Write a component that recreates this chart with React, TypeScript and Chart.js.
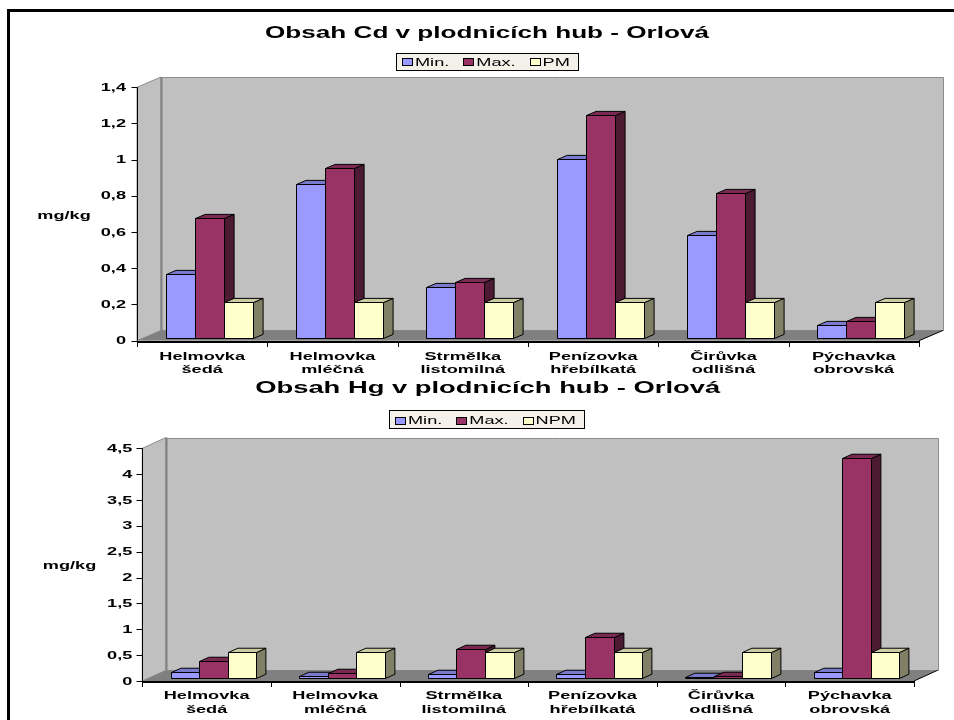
import React, { useEffect, useRef } from "react";
import { Chart, registerables } from "chart.js";

Chart.register(...registerables);

// ---------- data ----------
const categories: string[][] = [
  ["Helmovka", "šedá"],
  ["Helmovka", "mléčná"],
  ["Strmělka", "listomilná"],
  ["Penízovka", "hřebílkatá"],
  ["Čirůvka", "odlišná"],
  ["Pýchavka", "obrovská"],
];

const cdTitle = "Obsah Cd v plodnicích hub - Orlová";
const cdSeries = ["Min.", "Max.", "PM"];
const cdMin = [0.35, 0.85, 0.28, 0.99, 0.57, 0.07];
const cdMax = [0.66, 0.94, 0.31, 1.23, 0.8, 0.09];
const cdPM = [0.2, 0.2, 0.2, 0.2, 0.2, 0.2];
const cdTicks = [0, 0.2, 0.4, 0.6, 0.8, 1, 1.2, 1.4];

const hgTitle = "Obsah Hg v plodnicích hub - Orlová";
const hgSeries = ["Min.", "Max.", "NPM"];
const hgMin = [0.12, 0.04, 0.08, 0.08, 0.02, 0.11];
const hgMax = [0.32, 0.1, 0.55, 0.8, 0.03, 4.25];
const hgNPM = [0.5, 0.5, 0.5, 0.5, 0.5, 0.5];
const hgTicks = [0, 0.5, 1, 1.5, 2, 2.5, 3, 3.5, 4, 4.5];

const unitLabel = "mg/kg";

// ---------- styles ----------
const FACES = [
  { front: "#9999FF", top: "#7A7ACC", side: "#4D4D80" },
  { front: "#993366", top: "#7A2952", side: "#4D1A33" },
  { front: "#FFFFCC", top: "#CCCCA3", side: "#808066" },
];
const FONT = '"Liberation Sans", Arial, sans-serif';
const SX = 1.65;
const W = 954;

type Layout = {
  height: number;
  area: { left: number; right: number; top: number; bottom: number };
  depth: [number, number];
  titleCx: number;
  titleBase: number;
  titleW: number;
  legendCx: number;
  legendTop: number;
  legendH: number;
  legendBase: number;
  legendBoxTop: number;
  unitCx: number;
  unitBase: number;
  catBase1: number;
  catBase2: number;
  tickRight: number;
};

const cdLayout: Layout = {
  height: 378,
  area: { left: 137, right: 919, top: 87.3, bottom: 340.7 },
  depth: [24, -10.3],
  titleCx: 487,
  titleBase: 37.5,
  titleW: 444,
  legendCx: 487,
  legendTop: 53,
  legendH: 17,
  legendBase: 65.5,
  legendBoxTop: 58,
  unitCx: 64,
  unitBase: 219,
  catBase1: 359.5,
  catBase2: 373,
  tickRight: 126,
};

const hgLayout: Layout = {
  height: 342,
  area: { left: 142.3, right: 914, top: 70.3, bottom: 303 },
  depth: [23.5, -10.7],
  titleCx: 487.7,
  titleBase: 15.3,
  titleW: 465,
  legendCx: 486.2,
  legendTop: 32,
  legendH: 18,
  legendBase: 46.3,
  legendBoxTop: 39.3,
  unitCx: 69.5,
  unitBase: 191,
  catBase1: 321.3,
  catBase2: 335.3,
  tickRight: 132.3,
};

const snap = (v: number) => Math.round(v) + 0.5;

function fmt(v: number) {
  return String(Number(v.toFixed(2))).replace(".", ",");
}

function stretchText(
  ctx: CanvasRenderingContext2D,
  text: string,
  x: number,
  y: number,
  font: string,
  align: CanvasTextAlign,
  baseline: CanvasTextBaseline,
  sx: number
) {
  ctx.save();
  ctx.font = font;
  ctx.fillStyle = "#000";
  ctx.textAlign = align;
  ctx.textBaseline = baseline;
  ctx.translate(x, y);
  ctx.scale(sx, 1);
  ctx.fillText(text, 0, 0);
  ctx.restore();
}

function poly(
  ctx: CanvasRenderingContext2D,
  pts: number[][],
  fill: string | null,
  stroke: string | null,
  lw = 1
) {
  ctx.beginPath();
  ctx.moveTo(pts[0][0], pts[0][1]);
  for (let i = 1; i < pts.length; i++) ctx.lineTo(pts[i][0], pts[i][1]);
  ctx.closePath();
  if (fill) {
    ctx.fillStyle = fill;
    ctx.fill();
  }
  if (stroke) {
    ctx.strokeStyle = stroke;
    ctx.lineWidth = lw;
    ctx.stroke();
  }
}

function line(
  ctx: CanvasRenderingContext2D,
  x1: number,
  y1: number,
  x2: number,
  y2: number,
  color: string,
  lw = 1
) {
  ctx.beginPath();
  ctx.moveTo(x1, y1);
  ctx.lineTo(x2, y2);
  ctx.strokeStyle = color;
  ctx.lineWidth = lw;
  ctx.stroke();
}

type Props = {
  layout: Layout;
  title: string;
  series: string[];
  values: number[][];
  ticks: number[];
  top: number;
};

function Bar3DChart({ layout, title, series, values, ticks, top }: Props) {
  const ref = useRef<HTMLCanvasElement>(null);

  useEffect(() => {
    const canvas = ref.current;
    if (!canvas) return;
    const [dx, dy] = layout.depth;
    const F0 = 0.29;
    const F1 = 0.4;

    const plugin = {
      id: "threeD",
      beforeDatasetsDraw(chart: any) {
        const ctx: CanvasRenderingContext2D = chart.ctx;
        const { left, right, top: t, bottom } = chart.chartArea;
        const xs = chart.scales.x;
        const ys = chart.scales.y;
        const n = categories.length;
        ctx.save();
        // left wall
        poly(
          ctx,
          [
            [left, t],
            [left + dx, t + dy],
            [left + dx, bottom + dy],
            [left, bottom],
          ],
          "#C0C0C0",
          "#8C8C8C"
        );
        // back wall
        poly(
          ctx,
          [
            [snap(left + dx), snap(t + dy)],
            [snap(right + dx), snap(t + dy)],
            [snap(right + dx), snap(bottom + dy)],
            [snap(left + dx), snap(bottom + dy)],
          ],
          "#C0C0C0",
          "#8C8C8C"
        );
        line(ctx, snap(left + dx), t + dy, snap(left + dx), bottom + dy, "#808080", 2);
        // floor
        poly(
          ctx,
          [
            [left, bottom],
            [right, bottom],
            [right + dx, bottom + dy],
            [left + dx, bottom + dy],
          ],
          "#808080",
          null
        );
        line(ctx, right, bottom, right + dx, bottom + dy, "#000", 1);
        // y axis
        const ax = snap(left);
        line(ctx, ax, ys.getPixelForValue(ticks[ticks.length - 1]), ax, bottom, "#000", 1);
        ticks.forEach((v) => {
          const y = snap(ys.getPixelForValue(v));
          line(ctx, ax - 6, y, ax, y, "#000", 1);
        });
        // x axis
        line(ctx, left, Math.round(bottom) + 1, right, Math.round(bottom) + 1, "#000", 2);
        const cw = (right - left) / n;
        for (let i = 0; i <= n; i++) {
          const x = snap(i < n ? xs.getPixelForValue(i) - cw / 2 : xs.getPixelForValue(n - 1) + cw / 2);
          line(ctx, x, Math.round(bottom), x, Math.round(bottom) + 6, "#000", 1);
        }
        // bars
        const bx = F0 * dx;
        const by = F0 * dy;
        const ddx = F1 * dx;
        const ddy = F1 * dy;
        for (let c = 0; c < n; c++) {
          for (let d = 0; d < series.length; d++) {
            const el: any = chart.getDatasetMeta(d).data[c];
            if (!el) continue;
            const x0 = snap(el.x - el.width / 2 + bx);
            const x1 = snap(el.x + el.width / 2 + bx);
            const yTop = snap(el.y + by);
            const yBase = snap(el.base + by);
            const face = FACES[d];
            ctx.lineJoin = "miter";
            // side
            poly(
              ctx,
              [
                [x1, yTop],
                [x1 + ddx, yTop + ddy],
                [x1 + ddx, yBase + ddy],
                [x1, yBase],
              ],
              face.side,
              "#000"
            );
            // top
            poly(
              ctx,
              [
                [x0, yTop],
                [x0 + ddx, yTop + ddy],
                [x1 + ddx, yTop + ddy],
                [x1, yTop],
              ],
              face.top,
              "#000"
            );
            // front
            poly(
              ctx,
              [
                [x0, yTop],
                [x1, yTop],
                [x1, yBase],
                [x0, yBase],
              ],
              face.front,
              "#000"
            );
          }
        }
        ctx.restore();
        return false;
      },
      afterDraw(chart: any) {
        const ctx: CanvasRenderingContext2D = chart.ctx;
        const xs = chart.scales.x;
        const ys = chart.scales.y;
        // title
        ctx.save();
        ctx.font = `bold 16px ${FONT}`;
        const tw = ctx.measureText(title).width;
        ctx.restore();
        stretchText(ctx, title, layout.titleCx, layout.titleBase, `bold 16px ${FONT}`, "center", "alphabetic", layout.titleW / tw);

        // legend
        const lf = `11px ${FONT}`;
        ctx.save();
        ctx.font = lf;
        const widths = series.map((s) => ctx.measureText(s).width * SX);
        ctx.restore();
        const padL = 6;
        const padR = 8;
        const boxW = 10;
        const boxH = 7;
        const gapBT = 3;
        const gapItem = 14;
        let total = padL + padR;
        widths.forEach((w, i) => {
          total += boxW + gapBT + w + (i < widths.length - 1 ? gapItem : 0);
        });
        const lx = Math.round(layout.legendCx - total / 2);
        ctx.save();
        ctx.fillStyle = "#F4F1EA";
        ctx.fillRect(lx + 0.5, Math.round(layout.legendTop) + 0.5, Math.round(total), Math.round(layout.legendH));
        ctx.strokeStyle = "#000";
        ctx.lineWidth = 1;
        ctx.strokeRect(lx + 0.5, Math.round(layout.legendTop) + 0.5, Math.round(total), Math.round(layout.legendH));
        ctx.restore();
        let cx = lx + padL;
        series.forEach((s, i) => {
          const bxp = Math.round(cx) + 0.5;
          const byp = Math.round(layout.legendBoxTop) + 0.5;
          ctx.save();
          ctx.fillStyle = FACES[i].front;
          ctx.fillRect(bxp, byp, boxW, boxH);
          ctx.strokeStyle = "#000";
          ctx.lineWidth = 1;
          ctx.strokeRect(bxp, byp, boxW, boxH);
          ctx.restore();
          stretchText(ctx, s, cx + boxW + gapBT, layout.legendBase, lf, "left", "alphabetic", SX);
          cx += boxW + gapBT + widths[i] + gapItem;
        });

        // y tick labels
        const bf = `bold 11px ${FONT}`;
        ticks.forEach((v) => {
          stretchText(ctx, fmt(v), layout.tickRight, ys.getPixelForValue(v) + 0.5, bf, "right", "middle", SX);
        });
        // unit label
        stretchText(ctx, unitLabel, layout.unitCx, layout.unitBase, bf, "center", "alphabetic", SX);
        // category labels
        categories.forEach((lines, i) => {
          const x = xs.getPixelForValue(i);
          stretchText(ctx, lines[0], x, layout.catBase1, bf, "center", "alphabetic", SX);
          if (lines[1]) stretchText(ctx, lines[1], x, layout.catBase2, bf, "center", "alphabetic", SX);
        });
      },
    };

    const chart = new Chart(canvas, {
      type: "bar",
      data: {
        labels: categories.map((c) => c.join(" ")),
        datasets: series.map((name, i) => ({
          label: name,
          data: values[i],
          backgroundColor: FACES[i].front,
          borderWidth: 0,
          categoryPercentage: 0.667,
          barPercentage: 1,
        })),
      },
      options: {
        responsive: false,
        animation: false,
        events: [],
        layout: {
          padding: {
            left: layout.area.left,
            right: W - layout.area.right,
            top: layout.area.top,
            bottom: layout.height - layout.area.bottom,
          },
        },
        plugins: {
          legend: { display: false },
          title: { display: false },
          tooltip: { enabled: false },
        },
        scales: {
          x: { display: false, offset: true },
          y: { display: false, min: ticks[0], max: ticks[ticks.length - 1] },
        },
      },
      plugins: [plugin],
    } as any);

    return () => chart.destroy();
  }, []);

  return (
    <canvas
      ref={ref}
      width={W}
      height={layout.height}
      style={{ position: "absolute", left: 0, top, width: W, height: layout.height }}
    />
  );
}

export default function App() {
  return (
    <div
      style={{
        position: "fixed",
        left: 0,
        top: 0,
        width: W,
        height: 720,
        background: "#fff",
        overflow: "hidden",
      }}
    >
      <div
        style={{
          position: "absolute",
          left: 7,
          top: 9,
          width: 1000,
          height: 1000,
          border: "3px solid #000",
          boxSizing: "border-box",
        }}
      />
      <Bar3DChart
        layout={cdLayout}
        title={cdTitle}
        series={cdSeries}
        values={[cdMin, cdMax, cdPM]}
        ticks={cdTicks}
        top={0}
      />
      <Bar3DChart
        layout={hgLayout}
        title={hgTitle}
        series={hgSeries}
        values={[hgMin, hgMax, hgNPM]}
        ticks={hgTicks}
        top={378}
      />
    </div>
  );
}
